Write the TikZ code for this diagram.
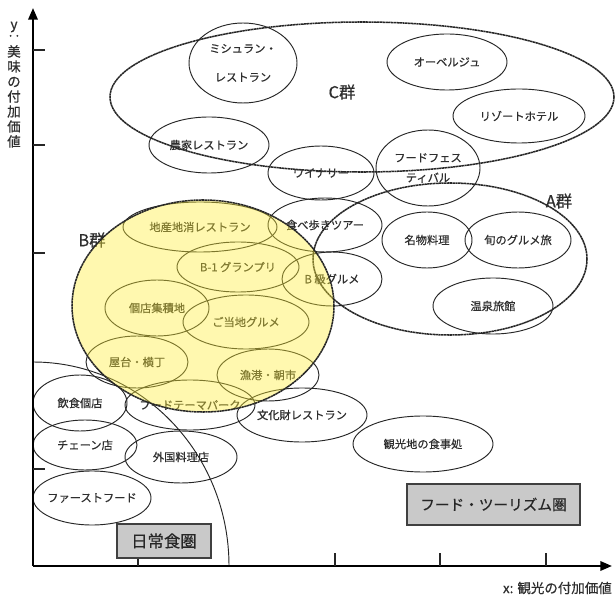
\documentclass[tikz,border=0pt]{standalone}
\usepackage{fontspec}
\setmainfont{Noto Sans CJK JP}[FakeBold=0.5]
\usetikzlibrary{arrows.meta}
\definecolor{ink}{HTML}{262626}
\definecolor{txt}{HTML}{2E2E2E}
\definecolor{yel}{RGB}{255,238,55}
\definecolor{boxfill}{HTML}{C9C9C9}
\newcommand\myitem[6]{%
  \draw[itemline] (#2,#3) ellipse [x radius=#4*0.03cm, y radius=#5*0.03cm];
  \node[itemtext] (#1) at (#2,#3) {#6};}
\tikzset{
  itemline/.style={draw=ink, line width=0.8pt},
  itemtext/.style={text=txt, font=\fontsize{9.6}{11}\selectfont, inner sep=0pt, align=center},
  grpline/.style={draw=ink, line width=1.3pt, dash pattern=on 2pt off 0.4pt},
  grplabel/.style={text=txt, font=\fontsize{14}{16}\selectfont, inner sep=0pt},
  axisline/.style={draw=black, line width=2pt},
  tickline/.style={draw=ink, line width=0.9pt},
  zonebox/.style={draw=black!75, line width=1.2pt, fill=boxfill, inner sep=0pt, text=black!85},
  axlabel/.style={text=txt, font=\fontsize{11.5}{13}\selectfont, inner sep=0pt},
}
\begin{document}
\begin{tikzpicture}[x=0.03cm,y=-0.03cm]
\useasboundingbox (0,0) rectangle (616,598);
\fill[white] (0,0) rectangle (616,598);

% group C and A
\draw[grpline] (362,97) ellipse [x radius=252*0.03cm, y radius=75*0.03cm];
\node[grplabel] (cgrp) at (342,92) {C群};
\draw[grpline] (450,259) ellipse [x radius=137*0.03cm, y radius=76*0.03cm];
\node[grplabel] (agrp) at (559,201) {A群};
\node[grplabel] (bgrp) at (92,240) {B群};

% items
\myitem{mich}{243}{63}{54}{40}{ミシュラン・\\[13.5pt]レストラン}
\myitem{aub}{447}{62}{60}{28}{オーベルジュ}
\myitem{res}{519}{116}{66}{27}{リゾートホテル}
\myitem{fes}{428}{168}{52}{38}{フードフェス\\[6pt]ティバル}
\myitem{noka}{209}{145}{60}{28}{農家レストラン}
\myitem{win}{321}{173}{53}{27}{ワイナリー}
\myitem{tabe}{325}{225}{57}{27}{食べ歩きツアー}
\myitem{mei}{427}{240}{45}{28}{名物料理}
\myitem{shun}{518}{240}{53}{28}{旬のグルメ旅}
\myitem{onsen}{493}{306}{60}{28}{温泉旅館}
\myitem{chisan}{200}{227}{77}{25}{地産地消レストラン}
\myitem{bone}{238}{267}{61}{25}{B-1 グランプリ}
\myitem{bkyu}{332}{279}{50}{27}{B 級グルメ}
\myitem{koten}{157}{308}{52}{28}{個店集積地}
\myitem{gotochi}{246}{322}{63}{27}{ご当地グルメ}
\myitem{yatai}{137}{362}{51}{26}{屋台・横丁}
\myitem{gyoko}{268}{375}{51}{26}{漁港・朝市}
\myitem{theme}{190}{405}{65}{25}{フードテーマパーク}
\myitem{bunka}{302}{415}{65}{27}{文化財レストラン}
\myitem{kanko}{423}{444}{70}{28}{観光地の食事処}
\myitem{inshoku}{80}{403}{47}{28}{飲食個店}
\myitem{chain}{85}{445}{52}{25}{チェーン店}
\myitem{gaikoku}{181}{457}{56}{26}{外国料理店}
\myitem{fast}{92}{498}{59}{27}{ファーストフード}

% daily food zone arc
\draw[itemline] (33,362) arc [start angle=90, end angle=0, x radius=196*0.03cm, y radius=204*0.03cm];

% group B overlay
\fill[yel, fill opacity=0.4] (203,306) ellipse [x radius=131*0.03cm, y radius=106*0.03cm];
\draw[grpline] (203,306) ellipse [x radius=131*0.03cm, y radius=106*0.03cm];

% axes
\coordinate (origin) at (33,566);
\coordinate (ytip) at (33,8);
\coordinate (xtip) at (612,566);
\draw[axisline, -{Triangle[length=10pt,width=8pt]}] (origin) -- (ytip);
\draw[axisline, -{Triangle[length=10pt,width=8pt]}] (origin) -- (xtip);
\foreach \yy in {50,145,253,469} \draw[tickline] (33,\yy) -- (45,\yy);
\foreach \xx in {138,335,440,546} \draw[tickline] (\xx,566) -- (\xx,553);

\node[axlabel, anchor=east] (xlab) at (612,588) {x: 観光の付加価値};
\node[axlabel] (ylaby) at (14,27) {y};
\node[axlabel] (ylabc) at (14,38) {‥};
\node[axlabel, align=center, font=\fontsize{11.5}{12.8}\selectfont, anchor=north] (ylab) at (14,45) {美\\味\\の\\付\\加\\価\\値};

% zone boxes
\node[zonebox, minimum width=94*0.03cm, minimum height=34*0.03cm, font=\fontsize{14}{16}\selectfont] (nichijo) at (164,541) {日常食圏};
\node[zonebox, minimum width=173*0.03cm, minimum height=41*0.03cm, font=\fontsize{12.5}{14}\selectfont] (foodt) at (493.5,504.5) {フード・ツーリズム圏};
\end{tikzpicture}
\end{document}
